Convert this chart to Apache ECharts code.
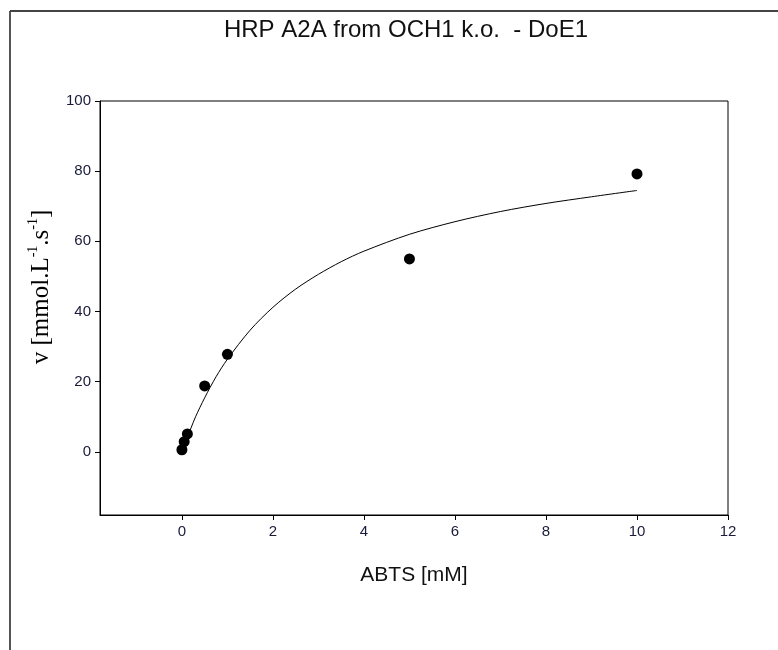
<!DOCTYPE html>
<html>
<head>
<meta charset="utf-8">
<script src="https://cdn.jsdelivr.net/npm/echarts@6/dist/echarts.min.js"></script>
<style>
  html, body { margin: 0; padding: 0; background: #fff; }
  #chart { width: 778px; height: 650px; }
</style>
</head>
<body>
<div id="chart"></div>
<script>
// datos medidos (puntos)
var abts = [0, 0.05, 0.12, 0.5, 1, 5, 10];
var velocidad = [0.6, 2.9, 5.1, 18.8, 27.8, 55, 79.2];

// curva ajustada
var curvaX = [0.05, 0.1, 0.2, 0.3, 0.5, 0.75, 1, 1.5, 2, 2.5, 3, 3.5, 4, 5, 6, 7, 8, 9, 10];
var curvaY = [1.8, 3.5, 6.8, 10.0, 15.4, 21.4, 26.4, 34.7, 41.2, 46.4, 50.6, 54.2, 57.2, 62.0, 65.6, 68.5, 70.8, 72.7, 74.5];

var ticksX = [0, 2, 4, 6, 8, 10, 12];
var ticksY = [0, 20, 40, 60, 80, 100];

var chart = echarts.init(document.getElementById('chart'));

var puntos = abts.map(function (x, i) { return [x, velocidad[i]]; });
var curva = curvaX.map(function (x, i) { return [x, curvaY[i]]; });

var fuente = '"Liberation Sans", Arial, sans-serif';
var serif = '"Liberation Serif", "Times New Roman", serif';

chart.setOption({
    animation: false,
    backgroundColor: '#fff',
    grid: {
        left: 100,
        top: 101,
        right: 50,
        bottom: 135,
        show: true,
        borderColor: '#000',
        borderWidth: 1
    },
    graphic: [
        {
            type: 'line',
            shape: { x1: 10, y1: 11, x2: 10, y2: 650 },
            style: { stroke: '#555', lineWidth: 2 }
        },
        {
            type: 'line',
            shape: { x1: 10, y1: 11, x2: 778, y2: 11 },
            style: { stroke: '#444', lineWidth: 2 }
        },
        {
            type: 'text',
            x: 406,
            y: 30,
            style: {
                text: 'HRP A2A from OCH1 k.o.  - DoE1',
                font: '24px ' + fuente,
                fill: '#111',
                align: 'center',
                verticalAlign: 'middle'
            }
        },
        // titulo del eje y, rotado
        {
            type: 'text',
            x: 40,
            y: 287,
            rotation: Math.PI / 2,
            style: {
                text: '{a|v [mmol.L}{s|-1}{a|.s}{s|-1}{a|]}',
                align: 'center',
                verticalAlign: 'middle',
                rich: {
                    a: { fontFamily: serif, fontSize: 25, fill: '#000', lineHeight: 28, verticalAlign: 'bottom' },
                    s: { fontFamily: serif, fontSize: 14, fill: '#000', lineHeight: 28, verticalAlign: 'top' }
                }
            }
        }
    ],
    xAxis: {
        type: 'value',
        min: -1.8,
        max: 12,
        name: 'ABTS [mM]',
        nameLocation: 'middle',
        nameGap: 50,
        nameTextStyle: { fontFamily: fuente, fontSize: 21, color: '#111' },
        splitLine: { show: false },
        axisLine: { onZero: false, lineStyle: { color: '#000' } },
        axisTick: { show: true, length: 5, lineStyle: { color: '#000' }, customValues: ticksX },
        axisLabel: { fontFamily: fuente, fontSize: 15, color: '#1a1a3a', margin: 9, customValues: ticksX }
    },
    yAxis: {
        type: 'value',
        min: -18,
        max: 100,
        splitLine: { show: false },
        axisLine: { onZero: false, lineStyle: { color: '#000' } },
        axisTick: { show: true, length: 5, lineStyle: { color: '#000' }, customValues: ticksY },
        axisLabel: { fontFamily: fuente, fontSize: 15, color: '#1a1a3a', margin: 9, customValues: ticksY }
    },
    series: [
        {
            type: 'line',
            data: curva,
            showSymbol: false,
            smooth: 0.3,
            lineStyle: { color: '#000', width: 1 },
            z: 2
        },
        {
            type: 'scatter',
            data: puntos,
            symbol: 'circle',
            symbolSize: 11,
            itemStyle: { color: '#000', opacity: 1 },
            z: 3
        }
    ]
});
</script>
</body>
</html>
